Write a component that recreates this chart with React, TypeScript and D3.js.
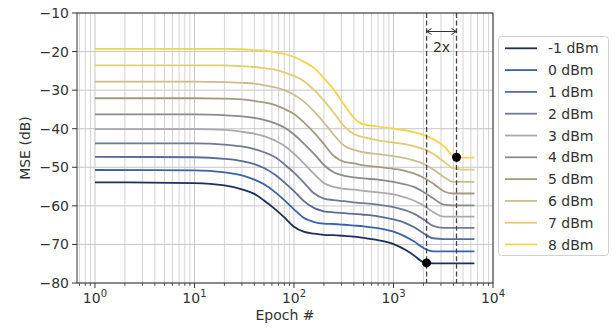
import * as d3 from "d3";

// epochs at which the curves were read (log axis)
const epochs = [1, 10, 20, 30, 40, 50, 65, 80, 100, 125, 160, 200, 250, 320, 400, 500, 700, 1000, 1300, 1600, 2000, 2500, 3200, 4000, 5000, 6500];

// MSE (dB) per launch power
const mseM1 = [-53.9, -54.1, -54.7, -55.7, -56.9, -58.6, -60.9, -63.0, -65.4, -66.7, -67.2, -67.5, -67.6, -67.8, -68.0, -68.3, -68.9, -69.9, -71.3, -72.8, -74.6, -74.9, -74.9, -74.9, -74.9, -74.9];
const mse0 = [-50.7, -50.8, -51.3, -52.1, -53.2, -54.4, -56.5, -58.5, -60.9, -63.1, -64.2, -64.6, -64.7, -64.9, -65.1, -65.3, -65.8, -66.7, -67.9, -69.2, -70.9, -71.8, -71.8, -71.8, -71.8, -71.8];
const mse1 = [-47.3, -47.4, -47.8, -48.4, -49.2, -50.2, -52.0, -53.9, -56.2, -58.7, -60.6, -61.4, -61.7, -61.9, -62.1, -62.3, -62.7, -63.5, -64.4, -65.5, -67.1, -68.4, -68.6, -68.6, -68.6, -68.6];
const mse2 = [-43.8, -43.8, -44.1, -44.6, -45.3, -46.1, -47.4, -49.2, -51.4, -53.9, -56.8, -58.1, -58.5, -58.8, -59.1, -59.3, -59.7, -60.3, -61.1, -62.0, -63.5, -65.2, -65.7, -65.7, -65.7, -65.7];
const mse3 = [-40.1, -40.1, -40.3, -40.8, -41.3, -41.9, -43.1, -44.4, -46.5, -48.9, -51.8, -54.1, -55.1, -55.6, -55.8, -56.1, -56.5, -57.0, -57.8, -58.6, -59.9, -61.6, -62.8, -62.8, -62.8, -62.8];
const mse4 = [-36.3, -36.3, -36.5, -36.8, -37.2, -37.7, -38.6, -39.7, -41.5, -43.8, -46.6, -49.4, -51.3, -52.2, -52.6, -52.9, -53.2, -53.8, -54.4, -55.1, -56.4, -58.0, -59.7, -59.9, -59.9, -59.9];
const mse5 = [-32.1, -32.1, -32.2, -32.4, -32.8, -33.2, -33.9, -34.9, -36.2, -38.3, -41.1, -44.0, -47.0, -48.6, -49.0, -49.5, -49.9, -50.4, -50.9, -51.6, -52.7, -54.2, -56.2, -56.8, -56.8, -56.8];
const mse6 = [-27.8, -27.8, -27.9, -28.1, -28.3, -28.7, -29.3, -30.0, -31.2, -32.9, -35.6, -38.4, -41.5, -44.4, -45.5, -46.1, -46.6, -47.1, -47.6, -48.2, -49.1, -50.5, -52.5, -53.8, -53.8, -53.8];
const mse7 = [-23.6, -23.6, -23.6, -23.8, -24.0, -24.3, -24.7, -25.4, -26.3, -27.6, -30.0, -32.7, -35.8, -39.4, -41.4, -42.2, -43.0, -43.6, -44.0, -44.5, -45.3, -46.5, -48.5, -50.3, -50.6, -50.6];
const mse8 = [-19.3, -19.3, -19.3, -19.4, -19.6, -19.7, -20.2, -20.6, -21.4, -22.6, -24.3, -26.9, -29.8, -33.8, -37.2, -38.9, -39.4, -40.0, -40.4, -40.9, -41.6, -42.7, -44.5, -47.0, -47.5, -47.5];

const powerLabels = ["-1 dBm", "0 dBm", "1 dBm", "2 dBm", "3 dBm", "4 dBm", "5 dBm", "6 dBm", "7 dBm", "8 dBm"];
const yTicks = [-80, -70, -60, -50, -40, -30, -20, -10];
const xMajorTicks = [1, 10, 100, 1000, 10000];

// the two marked convergence points (2x apart)
const markerEpochs = [2150, 4300];
const markerMse = [-74.8, -47.4];

const palette = ["#1c2f5c", "#3a62a6", "#5b6b98", "#737a90", "#a9aaae", "#8b8b89", "#a19b82", "#c9be8d", "#dfcd74", "#f0d54e"];

const FONT = "DejaVu Sans, sans-serif";
const INK = "#333";

export default function App() {
  const W = 616, H = 331;
  const m = { left: 77, right: 493, top: 13, bottom: 283 };

  const x = d3.scaleLog().domain([0.66, 10000]).range([m.left, m.right]);
  const y = d3.scaleLinear().domain([-80, -10]).range([m.bottom, m.top]);

  const series = [mseM1, mse0, mse1, mse2, mse3, mse4, mse5, mse6, mse7, mse8];

  const line = d3.line<number>()
    .x((_, i) => x(epochs[i]))
    .y(d => y(d))
    .curve(d3.curveMonotoneX);

  const isMajor = (t: number) => Math.abs(Math.log10(t) - Math.round(Math.log10(t))) < 1e-6;
  const minorTicks = x.ticks().filter(t => !isMajor(t));

  const ax1 = x(markerEpochs[0]), ax2 = x(markerEpochs[1]);
  const arrowY = 31.5;

  return (
    <svg width={W} height={H} style={{ position: "absolute", left: 0, top: 0, background: "#fff" }} fontFamily={FONT}>
      {/* grid */}
      <g>
        {minorTicks.map(t => (
          <line key={"gm" + t} x1={x(t)} x2={x(t)} y1={m.top} y2={m.bottom} stroke="#d4d4d4" strokeWidth={1} />
        ))}
        {xMajorTicks.map(t => (
          <line key={"gx" + t} x1={x(t)} x2={x(t)} y1={m.top} y2={m.bottom} stroke="#c6c6c6" strokeWidth={1} />
        ))}
        {yTicks.map(t => (
          <line key={"gy" + t} x1={m.left} x2={m.right} y1={y(t)} y2={y(t)} stroke="#c6c6c6" strokeWidth={1} />
        ))}
      </g>

      {/* curves */}
      <g fill="none">
        {series.map((s, i) => (
          <path key={powerLabels[i]} d={line(s) ?? ""} stroke={palette[i]} strokeWidth={1.8} />
        ))}
      </g>

      {/* 2x annotation */}
      <g stroke="#444" strokeWidth={1.3}>
        {markerEpochs.map(e => (
          <line key={"v" + e} x1={x(e)} x2={x(e)} y1={m.top} y2={m.bottom} strokeDasharray="5,2.6" />
        ))}
      </g>
      <g stroke={INK} strokeWidth={1} fill="none">
        <line x1={ax1} x2={ax2} y1={arrowY} y2={arrowY} />
        <path d={`M${ax1 + 5},${arrowY - 3} L${ax1},${arrowY} L${ax1 + 5},${arrowY + 3}`} />
        <path d={`M${ax2 - 5},${arrowY - 3} L${ax2},${arrowY} L${ax2 - 5},${arrowY + 3}`} />
      </g>
      <text x={(ax1 + ax2) / 2} y={52} textAnchor="middle" fontSize={14} fill={INK}>2x</text>

      {markerEpochs.map((e, i) => (
        <circle key={"dot" + e} cx={x(e)} cy={y(markerMse[i])} r={4.5} fill="#000" />
      ))}

      {/* frame */}
      <rect x={m.left} y={m.top} width={m.right - m.left} height={m.bottom - m.top} fill="none" stroke={INK} strokeWidth={1} />

      {/* ticks */}
      <g stroke={INK}>
        {xMajorTicks.map(t => (
          <line key={"xt" + t} x1={x(t)} x2={x(t)} y1={m.bottom} y2={m.bottom + 5} strokeWidth={1} />
        ))}
        {minorTicks.map(t => (
          <line key={"xmt" + t} x1={x(t)} x2={x(t)} y1={m.bottom} y2={m.bottom + 3} strokeWidth={0.8} />
        ))}
        {yTicks.map(t => (
          <line key={"yt" + t} x1={m.left - 5} x2={m.left} y1={y(t)} y2={y(t)} strokeWidth={1} />
        ))}
      </g>
      <g fill={INK} fontSize={14}>
        {xMajorTicks.map(t => (
          <text key={"xl" + t} x={x(t)} y={303} textAnchor="middle">
            10<tspan fontSize={10} dy={-6}>{Math.round(Math.log10(t))}</tspan>
          </text>
        ))}
        {yTicks.map(t => (
          <text key={"yl" + t} x={m.left - 8} y={y(t)} dy="0.36em" textAnchor="end">
            {t < 0 ? "\u2212" + Math.abs(t) : String(t)}
          </text>
        ))}
        <text x={(m.left + m.right) / 2} y={320} textAnchor="middle">Epoch #</text>
        <text transform={`translate(30,${(m.top + m.bottom) / 2}) rotate(-90)`} textAnchor="middle">MSE (dB)</text>
      </g>

      {/* legend */}
      <g>
        <rect x={498.5} y={36.5} width={110} height={219} rx={3} fill="#fff" fillOpacity={0.8} stroke="#d0d0d0" />
        {powerLabels.map((lab, i) => {
          const ly = 48.3 + i * 21.8;
          return (
            <g key={"lg" + lab}>
              <line x1={505} x2={537} y1={ly} y2={ly} stroke={palette[i]} strokeWidth={1.8} />
              <text x={548} y={ly} dy="0.36em" fontSize={14} fill={INK}>{lab}</text>
            </g>
          );
        })}
      </g>
    </svg>
  );
}
